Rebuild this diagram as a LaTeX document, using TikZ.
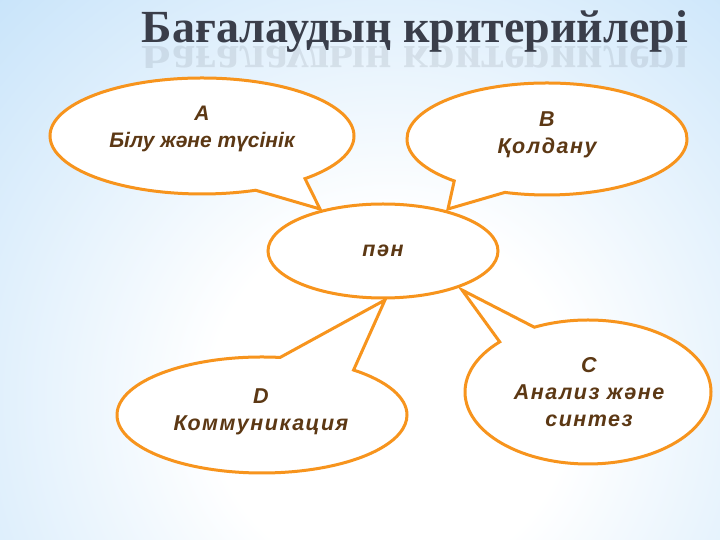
\documentclass[tikz,border=0pt]{standalone}
\usepackage{fontspec}
\setmainfont{Liberation Sans}
\newfontfamily\spaced[LetterSpace=7]{Liberation Sans}
\newfontfamily\titlefont{Liberation Serif}
\usetikzlibrary{shapes.callouts,shapes.geometric}
\definecolor{orng}{RGB}{247,148,29}
\definecolor{brn}{RGB}{92,56,20}
\definecolor{bgblue}{RGB}{150,203,245}
\definecolor{ttl}{RGB}{58,62,74}
\pgfdeclareradialshading{bgshade}{\pgfpoint{0bp}{0bp}}{color(0bp)=(white); color(9bp)=(white); color(46bp)=(bgblue); color(50bp)=(bgblue)}
\begin{document}
\begin{tikzpicture}[x=1pt,y=1pt,
  bubble/.style={ellipse callout, draw=orng, fill=white, line width=3pt, inner sep=0pt},
  oval/.style={ellipse, draw=orng, fill=white, line width=3pt, inner sep=0pt},
  lbl/.style={text=brn, font=\fontsize{21}{27}\selectfont\bfseries\itshape, align=center},
  lbls/.style={text=brn, font=\spaced\fontsize{21.5}{27}\selectfont\bfseries\itshape, align=center},
  ttlstyle/.style={text=ttl, font=\titlefont\fontsize{46}{50}\selectfont\bfseries, inner sep=0pt}]
\useasboundingbox (0,0) rectangle (720,540);
\begin{scope}
  \clip (0,0) rectangle (720,540);
  \shade[shading=bgshade] (-110,-360) rectangle (890,640);
\end{scope}
% title
\node[ttlstyle, anchor=base] (title) at (415,497) {Бағалаудың критерийлері};
\begin{scope}
  \clip (100,472) rectangle (720,494);
  \node[ttlstyle, anchor=base, yscale=-1, transform shape, opacity=0.11] (titlerefl) at (415,493) {Бағалаудың критерийлері};
\end{scope}
% tips
\coordinate (tA) at (320,331);
\coordinate (tB) at (448,331);
\coordinate (tC) at (462,250);
\coordinate (tD) at (385,240);
% callouts
\node[bubble, minimum width=304pt, minimum height=116pt, callout absolute pointer={(tA)}, callout pointer arc=22] (A) at (202,404) {};
\node[bubble, minimum width=280pt, minimum height=112pt, callout absolute pointer={(tB)}, callout pointer arc=24] (B) at (547,401) {};
\node[bubble, minimum width=246pt, minimum height=144pt, callout absolute pointer={(tC)}, callout pointer arc=20] (C) at (588,148) {};
\node[bubble, minimum width=290pt, minimum height=116pt, callout absolute pointer={(tD)}, callout pointer arc=32] (D) at (262,125) {};
\node[lbl] (At) at (202,411) {A\\Білу және түсінік};
\node[lbls] (Bt) at (547,405) {B\\Қолдану};
\node[lbls] (Ct) at (589,148) {C\\Анализ және\\синтез};
\node[lbls] (Dt) at (261,128) {D\\Коммуникация};
% centre
\node[oval, minimum width=230pt, minimum height=94pt, lbls] (pan) at (383,289) {пән};
\end{tikzpicture}
\end{document}
